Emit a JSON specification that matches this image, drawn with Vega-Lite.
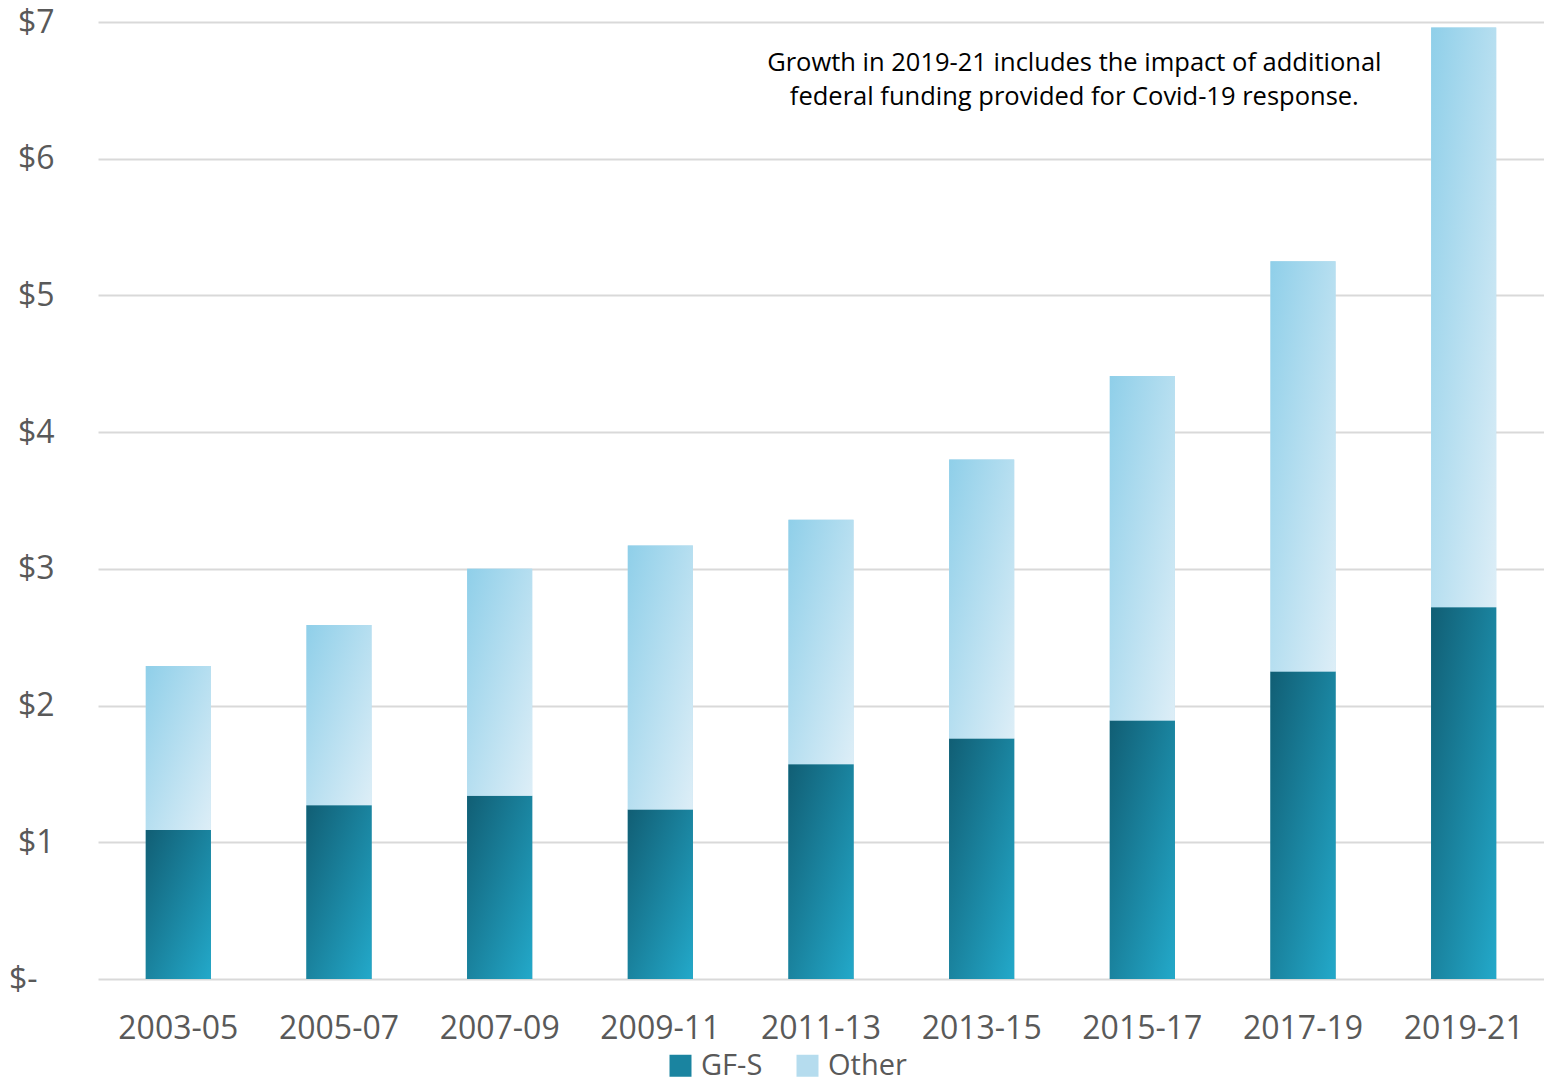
{
  "$schema": "https://vega.github.io/schema/vega-lite/v6.json",
  "width": 1446,
  "height": 957,
  "autosize": {"type": "none"},
  "padding": {"left": 98, "top": 22, "right": 0, "bottom": 107},
  "background": "white",
  "config": {
    "view": {"stroke": null},
    "font": "Open Sans"
  },
  "datasets": {
    "bars": [
      {"period": "2003-05", "type": "GF-S", "value": 1.09},
      {"period": "2003-05", "type": "Other", "value": 1.20},
      {"period": "2005-07", "type": "GF-S", "value": 1.27},
      {"period": "2005-07", "type": "Other", "value": 1.32},
      {"period": "2007-09", "type": "GF-S", "value": 1.34},
      {"period": "2007-09", "type": "Other", "value": 1.66},
      {"period": "2009-11", "type": "GF-S", "value": 1.24},
      {"period": "2009-11", "type": "Other", "value": 1.93},
      {"period": "2011-13", "type": "GF-S", "value": 1.57},
      {"period": "2011-13", "type": "Other", "value": 1.79},
      {"period": "2013-15", "type": "GF-S", "value": 1.76},
      {"period": "2013-15", "type": "Other", "value": 2.04},
      {"period": "2015-17", "type": "GF-S", "value": 1.89},
      {"period": "2015-17", "type": "Other", "value": 2.52},
      {"period": "2017-19", "type": "GF-S", "value": 2.25},
      {"period": "2017-19", "type": "Other", "value": 3.00},
      {"period": "2019-21", "type": "GF-S", "value": 2.72},
      {"period": "2019-21", "type": "Other", "value": 4.24}
    ],
    "note": [
      {"period": "2015-17", "y": 6.70, "text": "Growth in 2019-21 includes the impact of additional\nfederal funding provided for Covid-19 response."}
    ]
  },
  "encoding": {
    "x": {
      "field": "period", "type": "nominal", "sort": null,
      "scale": {"paddingInner": 0.595, "paddingOuter": 0.2975},
      "axis": {
        "title": null, "labelAngle": 0, "ticks": false, "domain": false,
        "labelFont": "Open Sans", "labelFontSize": 32, "labelColor": "#595959",
        "labelPadding": 34, "grid": false
      }
    }
  },
  "layer": [
    {
      "data": {"name": "bars"},
      "mark": {"type": "bar"},
      "encoding": {
        "y": {
          "field": "value", "type": "quantitative", "stack": "zero",
          "scale": {"domain": [0, 7], "nice": false},
          "axis": {
            "title": null, "values": [0, 1, 2, 3, 4, 5, 6, 7],
            "labelExpr": "datum.value === 0 ? '$-' : '$' + datum.value",
            "ticks": false, "domain": false,
            "labelFont": "Open Sans", "labelFontSize": 32, "labelColor": "#595959",
            "labelPadding": {"condition": {"test": "datum.value === 0", "value": 61}, "value": 44},
            "labelBaseline": "middle",
            "grid": true, "gridColor": "#d9d9d9", "gridWidth": 2
          }
        },
        "order": {"field": "type", "sort": "ascending"},
        "color": {
          "field": "type", "type": "nominal",
          "scale": {"domain": ["GF-S", "Other"], "range": ["#1a84a0", "#b5dcee"]},
          "legend": {
            "title": null, "orient": "none", "direction": "horizontal",
            "legendX": 568, "legendY": 1029,
            "symbolType": "square", "symbolSize": 484, "symbolStrokeWidth": 0,
            "labelFont": "Open Sans", "labelFontSize": 29, "labelColor": "#595959",
            "labelOffset": 6, "columnPadding": 30, "padding": 0
          }
        }
      }
    },
    {
      "data": {"name": "bars"},
      "mark": {"type": "bar"},
      "encoding": {
        "y": {"field": "value", "type": "quantitative", "stack": "zero"},
        "detail": {"field": "type", "type": "nominal"},
        "order": {"field": "type", "sort": "ascending"},
        "color": {
          "condition": {
            "test": "datum.type === 'GF-S'",
            "value": {"gradient": "linear", "x1": 0, "y1": 0, "x2": 1, "y2": 1, "stops": [{"offset": 0, "color": "#115e74"}, {"offset": 1, "color": "#23a9ca"}]}
          },
          "value": {"gradient": "linear", "x1": 0, "y1": 0, "x2": 1, "y2": 1, "stops": [{"offset": 0, "color": "#8fcfe9"}, {"offset": 1, "color": "#ddeef7"}]}
        }
      }
    },
    {
      "data": {"name": "note"},
      "mark": {
        "type": "text", "font": "Open Sans", "fontSize": 25.5, "color": "#000000",
        "align": "center", "baseline": "middle", "lineBreak": "\n", "lineHeight": 34, "dx": -68
      },
      "encoding": {
        "y": {"field": "y", "type": "quantitative"},
        "text": {"field": "text"}
      }
    }
  ]
}
